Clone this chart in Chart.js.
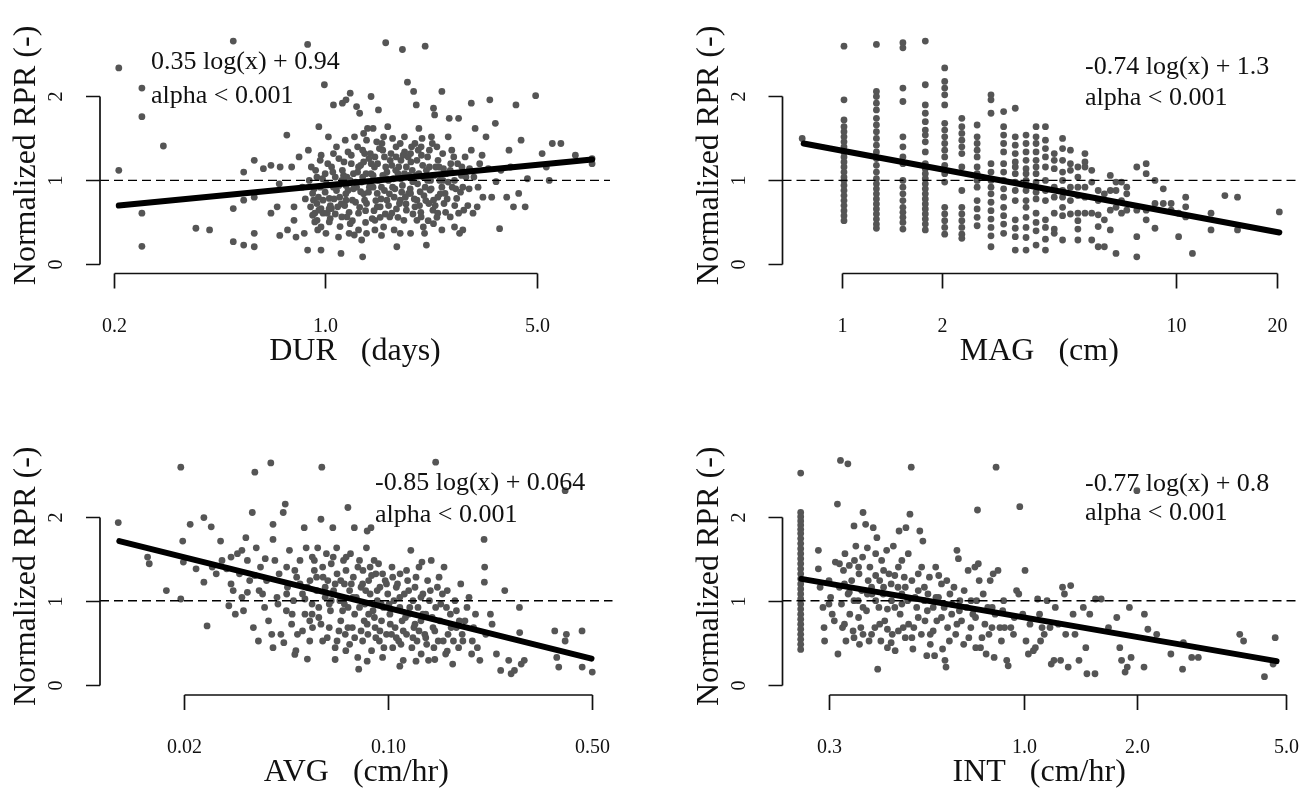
<!DOCTYPE html>
<html>
<head>
<meta charset="utf-8">
<title>Normalized RPR vs storm descriptors</title>
<script src="https://cdn.jsdelivr.net/npm/chart.js@4"></script>
<style>
  html, body { margin: 0; padding: 0; background: #fff; }
  #wrap { position: relative; width: 1300px; height: 789px; overflow: hidden; }
  canvas { position: absolute; }
</style>
</head>
<body>
<div id="wrap">
  <canvas id="cDur" width="650" height="394" style="left:0;top:0"></canvas>
  <canvas id="cMag" width="650" height="394" style="left:650px;top:0"></canvas>
  <canvas id="cAvg" width="650" height="395" style="left:0;top:394px"></canvas>
  <canvas id="cInt" width="650" height="395" style="left:650px;top:394px"></canvas>
</div>
<script>
/* Normalized RPR against DUR, MAG, AVG, INT (log x axes) */

// ---- DUR (days) ----
const durPts = [
  [0.208,2.34],[0.208,1.12],[0.248,2.10],[0.248,1.76],[0.248,0.61],[0.248,0.215],[0.292,1.41],[0.374,0.43],
  [0.415,0.41],[0.497,2.66],[0.497,0.665],[0.497,0.27],[0.538,1.10],[0.538,0.765],[0.538,0.23],[0.583,1.24],
  [0.583,0.80],[0.583,0.37],[0.583,0.21],[0.625,1.14],[0.662,1.18],[0.662,0.61],[0.71,1.16],[0.705,0.96],
  [0.694,0.685],[0.708,0.345],[0.747,1.54],[0.751,0.41],[0.775,1.16],[0.789,0.685],[0.789,0.525],[0.801,0.325],
  [0.82,1.28],[0.84,0.92],[0.853,0.37],[0.875,2.62],[0.875,0.17],[0.88,1.36],[0.90,1.16],[0.915,0.765],
  [0.924,0.61],[0.94,0.525],[0.945,0.41],[0.953,1.64],[0.963,1.24],[0.963,0.92],[0.969,0.665],[0.969,0.17],
  [0.984,0.61],[0.994,2.14],[1.0,1.08],[1.006,0.37],[1.025,1.52],[1.032,0.785],[1.039,0.545],[1.065,1.90],
  [1.065,1.32],[1.08,1.04],[1.09,0.88],[1.10,0.685],[1.107,0.325],[1.128,0.13],[1.14,1.92],[1.154,1.22],
  [1.165,1.48],[1.172,1.96],[1.172,0.94],[1.18,0.565],[1.20,0.37],[1.21,2.04],[1.22,1.20],[1.23,0.765],
  [1.24,1.08],[1.248,0.35],[1.27,1.88],[1.28,1.40],[1.289,0.61],[1.30,1.80],[1.31,0.865],[1.32,0.29],
  [1.33,0.09],[1.34,1.56],[1.35,1.32],[1.365,1.08],[1.37,0.725],[1.395,1.26],[1.41,0.96],[1.418,2.0],
  [1.43,0.545],[1.44,1.62],[1.455,1.16],[1.46,0.41],[1.486,0.845],[1.50,1.84],[1.511,1.38],[1.52,0.685],
  [1.535,0.345],[1.55,1.06],[1.56,1.52],[1.57,1.28],[1.585,2.64],[1.60,0.765],[1.61,1.64],[1.62,1.0],
  [1.635,0.565],[1.65,1.32],[1.66,1.18],[1.69,0.41],[1.70,0.90],[1.715,1.40],[1.725,0.21],[1.74,1.08],
  [1.76,0.725],[1.78,1.24],[1.80,2.56],[1.80,0.94],[1.82,0.525],[1.828,1.52],[1.855,1.16],[1.87,2.17],
  [1.886,0.845],[1.915,0.37],[1.93,1.40],[1.947,0.985],[1.96,2.06],[1.98,0.685],[2.0,1.90],[2.01,1.24],
  [2.04,1.62],[2.06,0.865],[2.075,0.565],[2.09,1.50],[2.11,1.04],[2.13,0.37],[2.14,2.60],[2.16,0.23],
  [2.18,1.28],[2.20,0.725],[2.22,0.885],[2.245,1.52],[2.27,0.645],[2.28,1.86],[2.30,1.78],[2.32,1.16],
  [2.34,1.40],[2.356,0.80],[2.39,1.0],[2.43,2.06],[2.445,1.32],[2.47,0.725],[2.51,1.08],[2.55,1.52],
  [2.57,1.74],[2.59,0.565],[2.63,0.92],[2.66,1.28],[2.675,0.445],[2.72,0.785],[2.76,1.74],[2.78,0.37],
  [2.83,1.16],[2.85,0.41],[2.87,0.645],[2.92,1.04],[2.99,0.90],[3.04,1.92],[3.04,1.36],[3.08,0.61],
  [3.13,1.62],[3.18,0.685],[3.24,1.20],[3.32,0.80],[3.40,1.52],[3.46,1.14],[3.50,1.96],[3.55,0.80],
  [3.65,1.68],[3.67,0.985],[3.77,0.425],[3.81,1.12],[3.98,0.80],[4.05,1.36],[4.10,1.16],[4.19,0.685],
  [4.27,1.90],[4.36,0.845],[4.44,1.48],[4.58,0.685],[4.66,1.02],[4.96,2.01],[5.21,1.32],[5.38,1.16],
  [5.50,1.0],[5.63,1.44],[6.01,1.44],[6.71,1.30],[7.62,1.20],[7.62,1.26],
  [0.895,0.685],[0.909,0.585],[0.924,0.505],[0.939,0.725],[0.953,0.645],[0.969,0.445],[0.984,0.765],[1.016,0.61],
  [1.032,0.505],[1.049,0.665],[0.909,0.845],[0.939,1.04],[0.886,1.0],[1.065,0.92],[1.117,0.80],[1.135,1.0],
  [1.172,0.765],[1.21,1.0],[1.27,0.92],[1.289,1.16],[1.33,1.04],[1.35,0.765],[1.418,1.08],[1.44,0.92],
  [1.486,0.685],[1.535,0.92],[1.585,1.16],[1.69,0.80],[1.77,0.765],[1.828,1.08],[1.855,0.645],[1.915,0.845],
  [2.01,0.765],[2.04,1.08],[2.14,0.92],[2.21,1.16],[2.28,0.765],[2.356,0.61],[2.43,0.92],[2.49,0.845],
  [2.59,1.12],[2.675,1.0],[2.76,0.61],[2.85,0.92],[1.33,1.36],[1.37,1.48],[1.46,1.28],[1.715,1.28],
  [1.77,1.44],[1.915,1.32],[2.075,1.40],[2.21,1.36],[1.135,0.565],[1.21,0.485],[1.289,0.41],[1.37,0.37],
  [1.46,0.525],[1.56,0.445],[1.66,0.61],[1.77,0.37],[2.01,0.525],[2.11,0.445],[2.28,0.485],[2.43,0.41],
  [0.86,0.78],[0.93,1.12],[0.97,1.30],[1.0,0.86],[1.02,1.20],[1.04,0.70],[1.06,1.10],[1.08,0.60],
  [1.11,1.26],[1.12,0.45],[1.15,1.06],[1.16,0.70],[1.19,1.34],[1.19,0.88],[1.23,0.52],[1.25,1.52],
  [1.26,0.98],[1.30,0.68],[1.31,1.18],[1.34,0.84],[1.36,0.50],[1.38,1.62],[1.40,0.92],[1.42,1.20],
  [1.45,0.64],[1.48,1.46],[1.50,1.0],[1.53,0.78],[1.55,1.36],[1.58,0.60],[1.60,1.10],[1.63,0.84],
  [1.67,1.50],[1.68,1.02],[1.72,0.66],[1.75,1.16],[1.79,0.86],[1.83,1.34],[1.85,0.72],[1.89,1.06],
  [1.92,1.22],[1.95,0.60],[1.98,1.44],[2.02,0.96],[2.05,0.70],[2.08,1.30],[2.12,0.82],[2.16,1.12],
  [2.19,0.52],[2.23,1.00],[2.26,1.44],[2.31,0.70],[2.36,1.24],[2.40,0.84],[2.46,1.14],[2.50,0.62],
  [2.55,0.98],[2.62,1.36],[2.68,0.70],[2.74,1.20],[2.80,0.86],[2.90,1.28],[2.96,0.70],[3.10,1.04],
  [3.20,0.92],[3.30,1.30],
  [0.92,0.90],[0.95,0.80],[0.98,1.02],[1.01,0.96],[1.03,0.66],[1.05,1.16],[1.07,0.78],[1.09,1.40],
  [1.11,0.94],[1.13,0.72],[1.14,1.12],[1.17,0.84],[1.18,1.04],[1.20,0.62],[1.22,1.30],[1.24,0.90],
  [1.26,0.74],[1.28,1.10],[1.32,0.98],[1.34,1.22],[1.36,0.64],[1.39,0.86],[1.41,1.32],[1.44,1.06],
  [1.47,0.76],[1.49,1.20],[1.52,0.56],[1.54,1.44],[1.57,0.88],[1.59,1.02],[1.62,0.70],[1.64,1.24],
  [1.67,0.92],[1.71,1.12],[1.74,0.56],[1.78,1.02],[1.81,1.30],[1.84,0.80],[1.88,1.28],[1.91,0.90],
  [1.94,1.12],[1.97,0.78],[2.00,1.06],[2.03,1.36],[2.07,0.62],[2.10,1.18],[2.15,0.76],[2.18,1.00],
  [2.24,0.90],[2.29,1.06],[2.34,0.56],[2.38,1.16],[2.45,1.00],[2.53,0.78],[2.60,1.20],[2.70,0.90],
  [2.82,1.06],[3.0,1.14]
];
const durFit = [[0.208, 0.70], [7.62, 1.25]];
const durTicks = [0.2, 1, 5];
const durTickLabels = ['0.2', '1.0', '5.0'];

// ---- MAG (cm): values fall in columns at fixed depths ----
const magLevels = [0.762, 1.016, 1.27, 1.524, 1.778, 2.032, 2.286, 2.54, 2.794, 3.048, 3.302, 3.556, 3.81,
  4.064, 4.318, 4.572, 4.826, 5.08, 5.334, 5.588, 5.842, 6.096, 6.35, 6.604, 6.858, 7.112, 7.62, 8.128,
  8.636, 9.144, 9.652, 10.16, 10.668, 11.176, 12.7, 13.97, 15.24, 20.32];
const magValues = [
  [1.50],
  [2.60,1.96,1.72,1.64,1.58,1.52,1.46,1.40,1.34,1.28,1.22,1.16,1.10,1.04,1.00,0.94,0.88,0.82,0.76,0.70,0.64,0.58,0.52],
  [2.62,2.06,2.0,1.92,1.84,1.74,1.66,1.58,1.50,1.42,1.34,1.26,1.18,1.10,1.02,0.96,0.90,0.84,0.78,0.72,0.66,0.60,0.54,0.48,0.43],
  [2.64,2.58,2.10,1.94,1.52,1.40,1.28,1.20,1.0,0.92,0.84,0.76,0.68,0.62,0.56,0.50,0.42],
  [2.66,2.14,1.90,1.80,1.70,1.60,1.54,1.46,1.34,1.20,1.14,1.08,1.02,0.96,0.90,0.84,0.78,0.72,0.66,0.60,0.54,0.48,0.41],
  [2.34,2.18,2.10,2.02,1.90,1.68,1.60,1.52,1.44,1.36,1.28,1.18,1.08,0.98,0.68,0.60,0.52,0.44,0.36],
  [1.74,1.64,1.56,1.48,1.40,1.32,1.16,0.88,0.68,0.60,0.52,0.44,0.36,0.31],
  [1.66,1.52,1.44,1.36,1.28,1.16,1.08,1.0,0.92,0.76,0.66,0.56,0.46],
  [2.02,1.96,1.80,1.20,1.10,1.0,0.92,0.84,0.74,0.64,0.54,0.44,0.34,0.21],
  [1.82,1.64,1.54,1.44,1.34,1.20,1.10,1.0,0.90,0.80,0.68,0.58,0.48,0.37],
  [1.86,1.52,1.42,1.32,1.22,1.16,1.08,0.98,0.88,0.76,0.53,0.43,0.33,0.17],
  [1.54,1.44,1.34,1.24,1.14,1.08,1.0,0.88,0.76,0.68,0.56,0.44,0.32,0.17],
  [1.64,1.52,1.44,1.34,1.24,1.16,1.08,0.98,0.86,0.78,0.61,0.50,0.40,0.23],
  [1.64,1.48,1.38,1.28,1.16,1.0,0.88,0.76,0.53,0.44,0.30,0.17],
  [1.32,1.24,1.14,0.92,0.80,0.61,0.42,0.37],
  [1.50,1.38,1.24,1.10,1.0,0.88,0.80,0.68,0.58,0.29],
  [1.36,1.20,1.12,0.92,0.76,0.60],
  [1.16,1.04,0.92,0.82,0.61,0.52,0.42,0.29],
  [1.32,1.22,1.16,0.92,0.80,0.61],
  [1.12,0.98,0.61,0.29],
  [0.88,0.76,0.59,0.45,0.21],
  [0.84,0.53,0.21],
  [1.06,0.88,0.645,0.41],
  [0.98,0.88,0.68,0.13],
  [0.98,0.76,0.61],
  [0.92,0.84,0.645],
  [1.16,0.645,0.33,0.09],
  [1.20,1.08,0.645,0.53],
  [1.0,0.725,0.43],
  [0.90,0.725],
  [0.725,0.645],
  [0.61,0.33],
  [0.80,0.685,0.565],
  [0.13],
  [0.61,0.41],
  [0.82],
  [0.80,0.41],
  [0.625]
];
const magFit = [[0.77, 1.44], [20.32, 0.38]];
const magTicks = [1, 2, 10, 20];
const magTickLabels = ['1', '2', '10', '20'];

// ---- AVG (cm/hr) ----
const avgPts = [
  [0.0119,1.93],[0.015,1.52],[0.0152,1.44],[0.0174,1.12],[0.0195,2.59],[0.0195,1.02],[0.0198,1.71],[0.021,1.91],
  [0.0199,1.46],[0.022,1.38],[0.0234,1.99],[0.0234,1.22],[0.024,0.70],[0.0248,1.88],[0.025,1.40],[0.0258,1.32],
  [0.0267,1.71],[0.027,1.48],[0.028,1.38],[0.0285,0.94],[0.029,1.20],[0.0295,1.12],[0.030,0.84],[0.0305,1.56],
  [0.031,1.32],[0.0316,1.04],[0.032,0.88],[0.0326,1.75],[0.033,1.48],[0.0336,1.24],[0.0343,2.05],[0.0346,0.68],
  [0.035,2.53],[0.0354,1.63],[0.036,0.52],[0.0362,1.12],[0.0366,1.40],[0.0372,1.08],[0.0378,0.92],[0.0384,1.24],
  [0.039,0.76],[0.0397,2.64],[0.0404,1.91],[0.0404,1.73],[0.0404,0.44],[0.041,1.48],[0.0417,1.04],[0.0424,1.32],
  [0.043,0.60],[0.0438,2.05],[0.0445,2.15],[0.0449,0.88],[0.0453,1.16],[0.046,1.60],[0.0468,0.72],[0.0475,1.0],
  [0.0484,0.405],[0.0487,1.28],[0.049,0.60],[0.05,1.48],[0.051,1.08],[0.0517,1.87],[0.052,0.84],[0.0525,1.63],
  [0.053,0.305],[0.054,0.52],[0.0541,1.24],[0.055,0.96],[0.0551,1.52],[0.0552,0.68],[0.056,1.36],[0.057,1.12],
  [0.0575,1.63],[0.058,0.80],[0.059,1.97],[0.0594,2.59],[0.0598,0.52],[0.0598,1.40],[0.061,1.04],[0.0616,1.56],
  [0.0623,1.24],[0.063,0.68],[0.0636,0.88],[0.064,1.44],[0.0648,1.87],[0.0652,1.12],[0.066,0.44],[0.0668,1.63],
  [0.067,1.32],[0.0685,1.0],[0.069,0.76],[0.0705,1.48],[0.071,1.20],[0.0715,0.60],[0.0718,0.405],[0.0719,1.36],
  [0.073,2.11],[0.0731,0.92],[0.074,1.12],[0.0745,1.56],[0.0756,0.68],[0.0762,1.28],[0.0768,1.87],[0.077,0.84],
  [0.078,1.04],[0.0789,0.325],[0.0795,0.185],[0.080,1.48],[0.081,1.16],[0.082,0.52],[0.0822,1.36],[0.083,0.76],
  [0.0835,0.96],[0.0845,1.63],[0.085,1.83],[0.0855,0.60],[0.086,1.24],[0.087,1.08],[0.0876,1.87],[0.088,0.405],
  [0.089,0.88],[0.0898,1.48],[0.0905,0.68],[0.091,1.32],[0.0921,1.0],[0.0936,0.52],[0.094,1.16],[0.0952,0.76],
  [0.096,0.325],[0.0967,0.92],[0.098,1.24],[0.099,0.60],[0.100,1.08],[0.1017,0.84],[0.1034,1.40],[0.104,0.44],
  [0.105,1.0],[0.106,0.68],[0.107,1.16],[0.109,0.52],[0.110,0.92],[0.1102,1.32],[0.112,0.76],[0.113,0.29],
  [0.114,1.08],[0.116,0.60],[0.117,1.24],[0.118,0.84],[0.120,1.60],[0.121,0.44],[0.122,1.0],[0.123,0.68],
  [0.124,1.16],[0.126,0.52],[0.127,0.92],[0.128,1.40],[0.130,0.76],[0.1302,0.365],[0.131,1.46],[0.132,1.08],
  [0.134,0.60],[0.135,0.84],[0.137,1.24],[0.138,0.29],[0.139,1.0],[0.141,1.48],[0.143,0.68],[0.144,0.44],
  [0.146,0.92],[0.148,1.16],[0.149,0.52],[0.151,0.76],[0.154,1.08],[0.156,1.40],[0.158,0.365],[0.159,0.92],
  [0.161,0.60],[0.164,0.84],[0.167,0.245],[0.170,1.0],[0.172,0.68],[0.175,0.44],[0.178,1.20],[0.181,0.52],
  [0.184,0.76],[0.187,0.92],[0.194,0.365],[0.197,0.68],[0.200,0.84],[0.203,0.44],[0.207,0.29],[0.214,1.73],
  [0.215,1.40],[0.2145,1.22],[0.217,0.60],[0.225,0.84],[0.228,0.72],[0.236,0.365],[0.244,0.17],[0.252,1.12],
  [0.260,0.29],[0.265,0.13],[0.272,0.17],[0.283,0.92],[0.2835,0.62],[0.287,0.245],[0.294,0.29],[0.374,0.64],
  [0.380,0.325],[0.386,0.21],[0.406,0.52],[0.410,0.60],[0.464,0.64],[0.4645,0.21],[0.503,0.15],[0.146,2.65],
  [0.406,2.31],[0.0316,1.60],[0.029,1.52],
  [0.042,0.96],[0.045,1.40],[0.047,0.84],[0.050,1.20],[0.052,1.02],[0.054,0.76],[0.056,1.48],[0.058,0.92],
  [0.060,1.28],[0.062,0.56],[0.064,1.00],[0.066,1.20],[0.068,0.64],[0.070,0.88],[0.072,1.52],[0.074,0.48],
  [0.076,1.04],[0.079,1.40],[0.081,0.64],[0.084,1.12],[0.086,0.84],[0.088,1.30],[0.091,0.56],[0.093,1.44],
  [0.095,0.96],[0.097,0.44],[0.099,1.20],[0.102,0.72],[0.104,1.28],[0.107,0.56],[0.110,1.04],[0.113,0.64],
  [0.116,1.36],[0.119,0.92],[0.122,0.56],[0.125,1.28],[0.128,0.64],[0.132,0.84],[0.136,0.48],[0.140,1.12],
  [0.145,0.64],[0.150,1.28],[0.155,0.52],[0.160,1.12],[0.165,0.68],[0.172,0.88],[0.180,0.60],[0.190,1.04],
  [0.035,1.30],[0.038,1.50],[0.033,1.10],[0.040,0.60],[0.044,0.50],[0.048,0.36],[0.066,0.30],[0.085,0.28],
  [0.11,0.22],[0.125,0.28],[0.145,0.30],[0.16,0.40],
  [0.045,1.08],[0.048,1.36],[0.051,0.64],[0.053,1.16],[0.055,0.84],[0.057,1.28],[0.059,0.72],[0.061,1.16],
  [0.063,0.96],[0.065,1.52],[0.067,0.52],[0.069,1.24],[0.071,0.96],[0.073,0.68],[0.075,1.20],[0.077,0.56],
  [0.080,0.92],[0.082,1.20],[0.085,0.72],[0.087,1.40],[0.090,0.80],[0.092,1.12],[0.094,0.64],[0.096,1.32],
  [0.101,0.96],[0.103,0.60],[0.108,1.20],[0.111,0.48],[0.115,0.80],[0.118,1.12],[0.124,0.72],[0.130,1.04],
  [0.135,0.56],[0.142,0.80],[0.152,0.96],[0.168,0.52],[0.176,0.76],[0.195,0.52]
];
const avgFit = [[0.012, 1.71], [0.50, 0.31]];
const avgTicks = [0.02, 0.1, 0.5];
const avgTickLabels = ['0.02', '0.10', '0.50'];

// ---- INT (cm/hr): column of values at the lowest intensity, then the rest ----
const intEdgeX = 0.252;
const intEdgeY = [2.52,2.05,2.0,1.95,1.90,1.85,1.80,1.74,1.68,1.62,1.56,1.50,1.44,1.38,1.32,1.26,1.20,1.14,
  1.08,1.02,0.96,0.90,0.84,0.78,0.72,0.66,0.60,0.54,0.48,0.42];
const intPts = [
  [0.281,1.60],[0.281,1.38],[0.284,1.16],[0.289,0.92],[0.291,0.68],[0.292,0.52],[0.300,1.24],[0.303,1.04],
  [0.306,0.84],[0.312,1.46],[0.316,2.15],[0.317,0.365],[0.320,1.16],[0.322,2.67],[0.324,0.96],[0.326,0.68],
  [0.328,1.36],[0.331,1.56],[0.333,0.52],[0.337,2.63],[0.3375,1.08],[0.341,0.84],[0.345,1.24],[0.348,0.64],
  [0.350,1.89],[0.351,1.48],[0.354,1.65],[0.359,1.0],[0.361,1.32],[0.362,0.48],[0.365,0.68],[0.367,1.12],
  [0.369,1.52],[0.370,2.05],[0.376,1.91],[0.378,0.88],[0.380,1.63],[0.382,1.24],[0.384,0.52],[0.386,1.40],
  [0.391,1.08],[0.394,1.87],[0.398,0.68],[0.400,1.56],[0.403,1.75],[0.405,0.185],[0.408,0.92],[0.410,1.24],
  [0.413,0.52],[0.415,1.48],[0.419,1.08],[0.423,0.76],[0.428,1.60],[0.430,0.44],[0.434,1.32],[0.441,1.0],
  [0.443,0.60],[0.446,1.65],[0.451,0.405],[0.459,1.16],[0.462,1.83],[0.465,0.84],[0.470,1.48],[0.474,0.68],
  [0.477,1.28],[0.482,1.87],[0.487,1.0],[0.489,1.56],[0.494,2.03],[0.498,2.59],[0.500,1.24],[0.503,0.425],
  [0.506,0.68],[0.515,0.92],[0.520,1.12],[0.525,1.83],[0.531,1.40],[0.535,1.71],[0.542,0.76],[0.548,0.345],
  [0.552,1.08],[0.557,1.28],[0.560,0.60],[0.570,0.92],[0.575,0.345],[0.579,1.40],[0.583,0.76],[0.589,1.04],
  [0.600,1.20],[0.604,0.425],[0.610,0.92],[0.613,0.29],[0.617,0.21],[0.623,0.68],[0.632,1.08],[0.639,0.84],
  [0.648,1.16],[0.655,0.60],[0.660,1.60],[0.666,1.50],[0.672,1.0],[0.679,0.76],[0.688,0.48],[0.700,0.92],
  [0.707,1.36],[0.719,0.68],[0.728,0.84],[0.737,1.40],[0.741,0.44],[0.745,1.0],[0.749,2.08],[0.753,1.44],
  [0.757,1.24],[0.763,0.44],[0.776,1.08],[0.784,0.72],[0.790,0.365],[0.798,0.92],[0.804,0.60],[0.810,1.24],
  [0.819,0.68],[0.825,1.32],[0.830,0.325],[0.835,0.84],[0.840,2.59],[0.850,1.36],[0.860,0.68],[0.868,0.52],
  [0.875,0.88],[0.885,0.68],[0.897,0.29],[0.905,0.225],[0.920,0.68],[0.935,0.60],[0.953,1.12],[0.966,1.08],
  [0.972,2.12],[0.990,0.84],[1.004,1.36],[1.010,0.52],[1.025,0.365],[1.035,0.72],[1.057,0.405],[1.070,0.44],
  [1.085,1.02],[1.098,0.84],[1.105,0.52],[1.115,0.68],[1.130,0.60],[1.150,1.0],[1.171,0.68],[1.180,0.245],
  [1.200,0.29],[1.210,0.92],[1.233,0.72],[1.250,0.29],[1.265,1.16],[1.280,1.08],[1.290,0.60],[1.310,0.21],
  [1.330,1.18],[1.350,0.84],[1.366,0.60],[1.400,0.29],[1.438,0.92],[1.460,0.44],[1.470,0.13],[1.496,0.84],
  [1.545,0.13],[1.550,1.02],[1.605,1.02],[1.679,0.68],[1.767,0.80],[1.800,0.44],[1.820,0.29],[1.860,0.15],
  [1.885,0.21],[1.910,0.92],[1.930,0.325],[2.09,0.21],[2.095,0.84],[2.14,0.66],[2.26,0.60],[2.466,0.365],
  [2.65,0.185],[2.664,0.50],[2.804,0.325],[2.92,0.325],[3.77,0.60],[3.86,0.52],[4.39,0.095],[4.63,0.245],
  [4.69,0.56],[2.0,2.31],
  [0.33,1.20],[0.35,1.0],[0.36,0.80],[0.39,1.16],[0.42,1.36],[0.44,1.20],[0.45,0.92],[0.47,1.08],
  [0.49,0.72],[0.52,1.32],[0.53,0.60],[0.55,0.88],[0.58,1.04],[0.62,1.24],[0.66,0.72],[0.69,1.12],
  [0.71,0.56],[0.74,0.80],[0.31,0.76],[0.34,1.42],[0.37,0.60],[0.40,1.00],[0.43,0.66],[0.46,1.40],
  [0.48,0.56],[0.51,1.04],[0.54,1.16],[0.56,0.48],[0.60,0.80],[0.64,0.96],
  [0.30,0.96],[0.32,1.44],[0.33,0.72],[0.34,1.10],[0.35,0.56],[0.36,1.40],[0.37,0.92],[0.38,1.08],
  [0.39,0.60],[0.40,1.30],[0.41,0.72],[0.42,1.16],[0.43,0.90],[0.44,0.50],[0.45,1.30],[0.46,0.64],
  [0.47,0.96],[0.48,1.16],[0.50,0.56],[0.52,0.80],[0.54,1.00],[0.57,0.64],[0.59,1.30],[0.63,0.52],
  [0.67,0.88],[0.72,1.00],[0.77,0.56],[0.82,0.92],[0.88,1.00],[0.94,0.80]
];
const intFit = [[0.253, 1.26], [4.73, 0.28]];
const intTicks = [0.3, 1, 2, 5];
const intTickLabels = ['0.3', '1.0', '2.0', '5.0'];

const yTicks = [0, 1, 2];
const yTickLabels = ['0', '1', '2'];
const yTitle = 'Normalized RPR (-)';
const pValue = 'alpha < 0.001';

const SERIF = '"Liberation Serif", "Times New Roman", Times, serif';
const DOT = '#555555';

// base-graphics style axes: detached, spanning first to last tick only
const rAxes = {
  id: 'rAxes',
  afterDatasetsDraw(chart, args, o) {
    const { ctx, chartArea: a } = chart;
    const x = chart.scales.x, y = chart.scales.y;
    ctx.save();

    // dashed reference at 1
    const yr = y.getPixelForValue(1);
    ctx.strokeStyle = '#000';
    ctx.lineWidth = 1.4;
    ctx.setLineDash([9, 5]);
    ctx.beginPath();
    ctx.moveTo(a.left, yr);
    ctx.lineTo(a.right, yr);
    ctx.stroke();
    ctx.setLineDash([]);

    ctx.lineWidth = 1.7;
    ctx.strokeStyle = '#111';
    ctx.fillStyle = '#111';

    // y axis
    const yp = o.yTicks.map(v => Math.round(y.getPixelForValue(v)) + 0.5);
    ctx.beginPath();
    ctx.moveTo(a.left, yp[0]);
    ctx.lineTo(a.left, yp[yp.length - 1]);
    yp.forEach(p => { ctx.moveTo(a.left, p); ctx.lineTo(a.left - 14, p); });
    ctx.stroke();
    ctx.font = '20px ' + SERIF;
    ctx.textAlign = 'center';
    ctx.textBaseline = 'middle';
    yp.forEach((p, i) => {
      ctx.save();
      ctx.translate(a.left - 43, p);
      ctx.rotate(-Math.PI / 2);
      ctx.fillText(o.yLabels[i], 0, 0);
      ctx.restore();
    });

    // x axis
    const xp = o.xTicks.map(v => Math.round(x.getPixelForValue(v)) + 0.5);
    const yb = a.bottom;
    ctx.beginPath();
    ctx.moveTo(xp[0], yb);
    ctx.lineTo(xp[xp.length - 1], yb);
    xp.forEach(p => { ctx.moveTo(p, yb); ctx.lineTo(p, yb + 15); });
    ctx.stroke();
    xp.forEach((p, i) => ctx.fillText(o.xLabels[i], p, yb + 53));

    // titles
    ctx.font = '32px ' + SERIF;
    ctx.fillText(o.xTitle, (a.left + a.right) / 2, yb + 78);
    ctx.save();
    ctx.translate(a.left - 73, (a.top + a.bottom) / 2);
    ctx.rotate(-Math.PI / 2);
    ctx.fillText(o.yTitle, 0, 0);
    ctx.restore();

    // fit annotation
    ctx.font = '26px ' + SERIF;
    ctx.textAlign = 'left';
    o.note.forEach((t, i) => ctx.fillText(t, o.noteX, o.noteY[i]));
    ctx.restore();
  }
};

function toXY(arr) { return arr.map(p => ({ x: p[0], y: p[1] })); }

function makeChart(id, pts, fit, cfg) {
  return new Chart(document.getElementById(id), {
    type: 'scatter',
    data: {
      datasets: [
        {
          type: 'line',
          data: toXY(fit),
          borderColor: '#000',
          borderWidth: 6,
          borderCapStyle: 'round',
          pointRadius: 0,
          fill: false,
          clip: false,
          order: 0
        },
        {
          data: toXY(pts),
          pointRadius: 3.4,
          pointBackgroundColor: DOT,
          pointBorderWidth: 0,
          clip: false,
          order: 1
        }
      ]
    },
    options: {
      responsive: false,
      animation: false,
      events: [],
      layout: { padding: cfg.pad },
      plugins: {
        legend: { display: false },
        tooltip: { enabled: false },
        rAxes: cfg.axes
      },
      scales: {
        x: { type: 'logarithmic', min: cfg.xMin, max: cfg.xMax, display: false },
        y: { type: 'linear', min: cfg.yMin, max: cfg.yMax, display: false }
      }
    },
    plugins: [rAxes]
  });
}

const magPts = [];
magLevels.forEach((lv, i) => magValues[i].forEach(v => magPts.push([lv, v])));
const intAll = intEdgeY.map(v => [intEdgeX, v]).concat(intPts);

makeChart('cDur', durPts, durFit, {
  pad: { left: 100, right: 40, top: 37.4, bottom: 120.5 },
  xMin: 0.1803, xMax: 8.733, yMin: -0.109, yMax: 2.704,
  axes: { xTicks: durTicks, xLabels: durTickLabels, yTicks: yTicks, yLabels: yTickLabels,
    xTitle: 'DUR   (days)', yTitle: yTitle,
    note: ['0.35 log(x) + 0.94', pValue], noteX: 151, noteY: [62, 96] }
});

makeChart('cMag', magPts, magFit, {
  pad: { left: 132.5, right: 4, top: 37.4, bottom: 120.5 },
  xMin: 0.6655, xMax: 22.79, yMin: -0.109, yMax: 2.704,
  axes: { xTicks: magTicks, xLabels: magTickLabels, yTicks: yTicks, yLabels: yTickLabels,
    xTitle: 'MAG   (cm)', yTitle: yTitle,
    note: ['-0.74 log(x) + 1.3', pValue], noteX: 435, noteY: [67, 98] }
});

makeChart('cAvg', avgPts, avgFit, {
  pad: { left: 100, right: 37.5, top: 63.6, bottom: 94 },
  xMin: 0.010301, xMax: 0.5902, yMin: -0.123, yMax: 2.704,
  axes: { xTicks: avgTicks, xLabels: avgTickLabels, yTicks: yTicks, yLabels: yTickLabels,
    xTitle: 'AVG   (cm/hr)', yTitle: yTitle,
    note: ['-0.85 log(x) + 0.064', pValue], noteX: 375, noteY: [89, 121] }
});

makeChart('cInt', intAll, intFit, {
  pad: { left: 132.5, right: 4.2, top: 63.6, bottom: 94 },
  xMin: 0.22527, xMax: 5.325, yMin: -0.123, yMax: 2.704,
  axes: { xTicks: intTicks, xLabels: intTickLabels, yTicks: yTicks, yLabels: yTickLabels,
    xTitle: 'INT   (cm/hr)', yTitle: yTitle,
    note: ['-0.77 log(x) + 0.8', pValue], noteX: 435, noteY: [90, 119] }
});
</script>
</body>
</html>
